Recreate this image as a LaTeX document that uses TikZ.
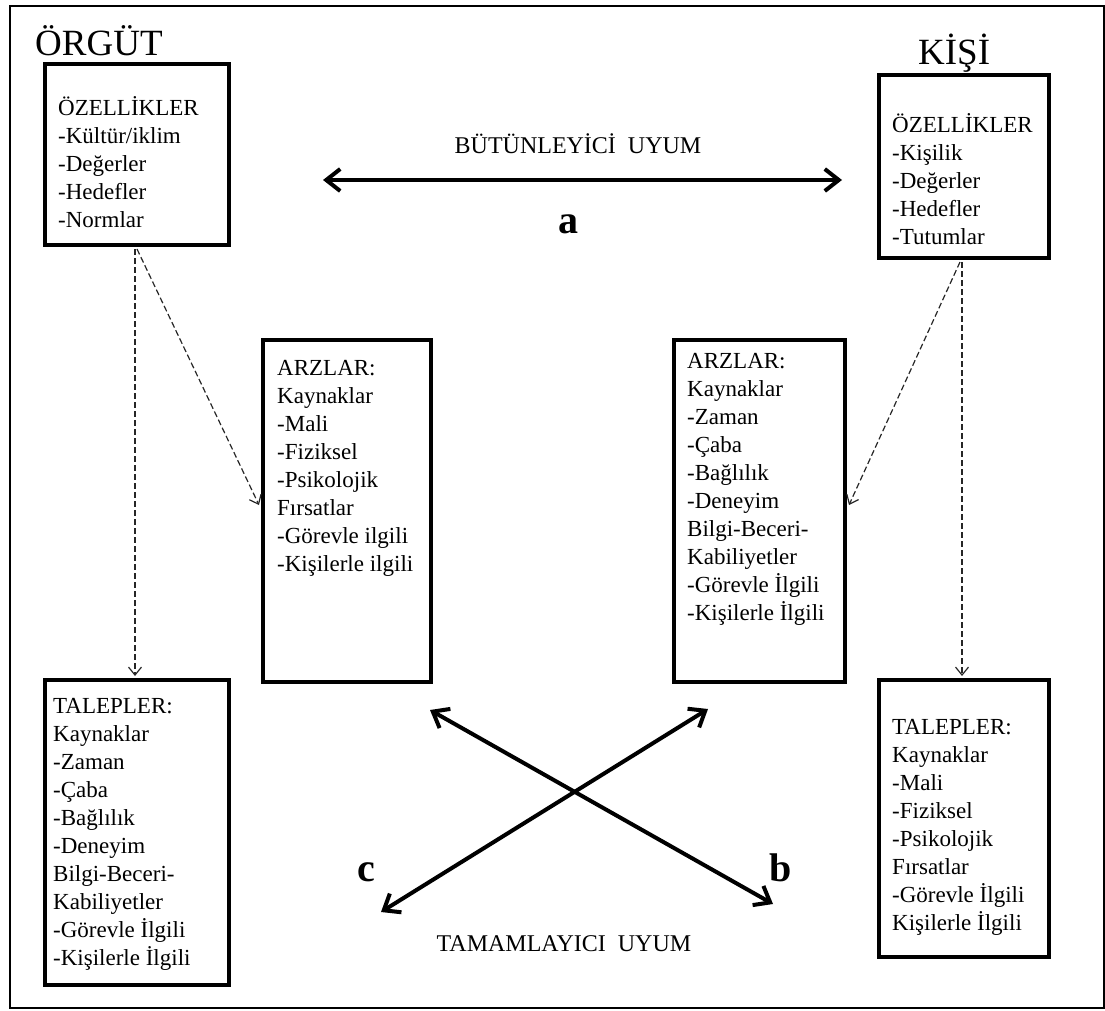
\documentclass[tikz,border=0pt]{standalone}
\usepackage{fontspec}
\setmainfont{Liberation Serif}
\usetikzlibrary{arrows.meta,calc}
\newcommand\boxlines[1]{\begin{tabular}[t]{@{}l@{}}#1\end{tabular}}
\begin{document}
\begin{tikzpicture}[x=1pt,y=-1pt,
  frame/.style={draw,line width=4pt,inner sep=0pt,anchor=north west},
  boxtext/.style={anchor=base west,inner sep=0pt,font=\fontsize{23}{28}\selectfont},
  title/.style={anchor=base west,inner sep=0pt,font=\fontsize{37}{40}\selectfont},
  caption/.style={anchor=base,inner sep=0pt,font=\fontsize{24}{28}\selectfont},
  letter/.style={anchor=base,inner sep=0pt,font=\bfseries\fontsize{40}{44}\selectfont},
  fitarrow/.style={line width=4pt,{Straight Barb[length=14pt,width=22pt]}-{Straight Barb[length=14pt,width=22pt]}},
  linkarrow/.style={line width=1.2pt,black!85,dash pattern=on 6pt off 3pt,-{Straight Barb[length=8pt,width=13pt]}}
]
\useasboundingbox (0,0) rectangle (1105,1010);
\draw[line width=2pt] (10,6) rectangle (1104,1008);

% titles
\node[title] (org) at (35,55) {ÖRGÜT};
\node[title] (kisi) at (918,64) {KİŞİ};

% boxes
\node[frame,minimum width=184pt,minimum height=181pt] (tl) at (43,62) {};
\node[frame,minimum width=170pt,minimum height=183pt] (tr) at (877,73) {};
\node[frame,minimum width=168pt,minimum height=342pt] (ml) at (261,338) {};
\node[frame,minimum width=171pt,minimum height=342pt] (mr) at (672,338) {};
\node[frame,minimum width=184pt,minimum height=305pt] (bl) at (43,678) {};
\node[frame,minimum width=170pt,minimum height=277pt] (br) at (877,678) {};

% box texts
\node[boxtext] (tltext) at (58,115) {\boxlines{ÖZELLİKLER\\-Kültür/iklim\\-Değerler\\-Hedefler\\-Normlar}};
\node[boxtext] (trtext) at (892,132) {\boxlines{ÖZELLİKLER\\-Kişilik\\-Değerler\\-Hedefler\\-Tutumlar}};
\node[boxtext] (mltext) at (277,375) {\boxlines{ARZLAR:\\Kaynaklar\\-Mali\\-Fiziksel\\-Psikolojik\\Fırsatlar\\-Görevle ilgili\\-Kişilerle ilgili}};
\node[boxtext] (mrtext) at (687,368) {\boxlines{ARZLAR:\\Kaynaklar\\-Zaman\\-Çaba\\-Bağlılık\\-Deneyim\\Bilgi-Beceri-\\Kabiliyetler\\-Görevle İlgili\\-Kişilerle İlgili}};
\node[boxtext] (bltext) at (53,713) {\boxlines{TALEPLER:\\Kaynaklar\\-Zaman\\-Çaba\\-Bağlılık\\-Deneyim\\Bilgi-Beceri-\\Kabiliyetler\\-Görevle İlgili\\-Kişilerle İlgili}};
\node[boxtext] (brtext) at (892,734) {\boxlines{TALEPLER:\\Kaynaklar\\-Mali\\-Fiziksel\\-Psikolojik\\Fırsatlar\\-Görevle İlgili\\Kişilerle İlgili}};

% dashed links
\draw[linkarrow] ($(tl.south west)+(92,2)$) -- ($(bl.north west)+(92,-2)$);
\draw[linkarrow] ($(tl.south west)+(94,2)$) -- ($(ml.north west)+(-2,167)$);
\draw[linkarrow] ($(tr.south west)+(85,2)$) -- ($(br.north west)+(85,-2)$);
\draw[linkarrow] ($(tr.south west)+(83,2)$) -- ($(mr.north east)+(2,167)$);

% complementary / supplementary fit
\coordinate (aL) at (323,180);
\coordinate (aR) at (842,180);
\draw[fitarrow] (aL) -- (aR);
\node[caption] (but) at (578,153) {BÜTÜNLEYİCİ~~UYUM};
\node[letter] (la) at (568,233) {a};

\coordinate (nw) at (430,710);
\coordinate (se) at (773,904);
\coordinate (ne) at (708,709);
\coordinate (sw) at (381,912);
\draw[fitarrow] (nw) -- (se);
\draw[fitarrow] (ne) -- (sw);
\node[letter] (lb) at (781,881) {b};
\node[letter] (lc) at (366,881) {c};
\node[caption] (tam) at (564,951) {TAMAMLAYICI~~UYUM};
\end{tikzpicture}
\end{document}
